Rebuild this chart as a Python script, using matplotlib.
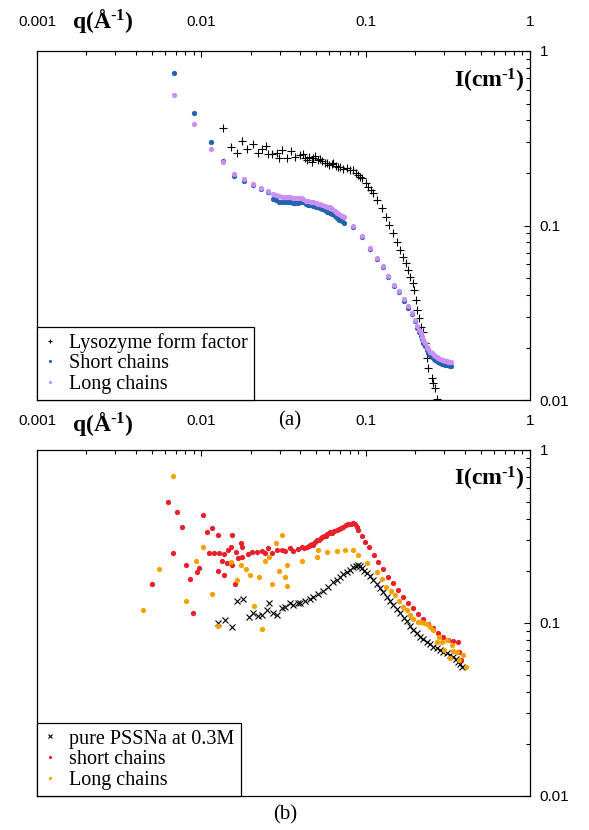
import matplotlib
matplotlib.use('Agg')
import matplotlib.pyplot as plt
from matplotlib.ticker import FixedLocator, LogLocator, NullFormatter

plt.rcParams['font.family'] = ['Liberation Sans', 'DejaVu Sans']
plt.rcParams['mathtext.fontset'] = 'custom'
plt.rcParams['mathtext.rm'] = 'Liberation Serif:bold'
plt.rcParams['mathtext.default'] = 'rm'

# ---- panel (a) ----
lyso_q = [0.0136, 0.0152, 0.0165, 0.0177, 0.0190, 0.0206, 0.0221, 0.0234, 0.0248, 0.0255,
          0.0269, 0.0289, 0.0297, 0.0310, 0.0332, 0.0352, 0.0372, 0.0399, 0.0416, 0.0425,
          0.0440, 0.0455, 0.0472, 0.0480, 0.0492, 0.0510, 0.0528, 0.0545, 0.0566, 0.0580,
          0.0600, 0.0620, 0.0636, 0.0660, 0.0680, 0.0699, 0.0730, 0.0767, 0.0800, 0.0842,
          0.0870, 0.0903, 0.0925, 0.0947, 0.1000, 0.1038, 0.1080, 0.1114, 0.1178, 0.1253,
          0.1331, 0.1394, 0.1475, 0.1546, 0.1619, 0.1696, 0.1762, 0.1820, 0.1863, 0.1935,
          0.1979, 0.2027, 0.2064, 0.2123, 0.2174, 0.2227, 0.2300, 0.2360, 0.2408, 0.2547,
          0.2583, 0.2645, 0.2731]
lyso_I = [0.362, 0.282, 0.260, 0.305, 0.274, 0.293, 0.260, 0.274, 0.285, 0.257,
          0.257, 0.260, 0.244, 0.271, 0.244, 0.267, 0.247, 0.254, 0.257, 0.243,
          0.237, 0.246, 0.231, 0.243, 0.250, 0.236, 0.240, 0.233, 0.228, 0.229,
          0.222, 0.225, 0.227, 0.220, 0.216, 0.217, 0.211, 0.213, 0.207, 0.208,
          0.200, 0.195, 0.190, 0.186, 0.175, 0.167, 0.160, 0.153, 0.140, 0.1255,
          0.1123, 0.1007, 0.0902, 0.0807, 0.0724, 0.0663, 0.0607, 0.0556, 0.0509, 0.0466,
          0.0427, 0.0374, 0.0328, 0.0294, 0.0263, 0.0246, 0.0211, 0.0175, 0.0152, 0.0133,
          0.0125, 0.0117, 0.0102]

chains_q = [0.00683, 0.00903, 0.01146, 0.01355, 0.0159, 0.0183, 0.0206, 0.0230, 0.0254,
            0.0273, 0.0285, 0.0297, 0.0310, 0.0322, 0.0335, 0.0347, 0.0360, 0.0374, 0.0388,
            0.0402, 0.0416, 0.0432, 0.0448, 0.0464, 0.0479, 0.0496, 0.0512, 0.0528, 0.0546,
            0.0565, 0.0585, 0.0605, 0.0625, 0.0647, 0.0669, 0.0692, 0.0715, 0.0742,
            0.0835, 0.0947, 0.1064, 0.1178, 0.1271, 0.1375, 0.1495, 0.1604, 0.1713, 0.1804,
            0.1908, 0.1998, 0.2064,
            0.2120, 0.2165, 0.2210, 0.2245, 0.2300, 0.2355, 0.2410, 0.2470, 0.2526, 0.2590,
            0.2650, 0.2709, 0.2770, 0.2840, 0.2905, 0.2970, 0.3040, 0.3115, 0.3190, 0.3250,
            0.3296]
short_I = [0.748, 0.441, 0.301, 0.234, 0.193, 0.180, 0.171, 0.162, 0.156,
           0.142, 0.140, 0.137, 0.136, 0.137, 0.136, 0.136, 0.135, 0.134, 0.135,
           0.137, 0.136, 0.133, 0.131, 0.131, 0.130, 0.128, 0.127, 0.1255, 0.124,
           0.122, 0.120, 0.118, 0.116, 0.113, 0.110, 0.108, 0.106, 0.103,
           0.0975, 0.0862, 0.0733, 0.0643, 0.0575, 0.0509, 0.0452, 0.0417, 0.0370, 0.0339,
           0.0311, 0.0282, 0.0260,
           0.0244, 0.0233, 0.0223, 0.0213, 0.0203, 0.0194, 0.0187, 0.0181, 0.0177, 0.0173,
           0.0170, 0.0167, 0.0165, 0.0163, 0.0161, 0.0160, 0.0159, 0.0158, 0.0158, 0.0157,
           0.0156]
long_I = [0.560, 0.382, 0.274, 0.232, 0.196, 0.184, 0.173, 0.165, 0.158,
          0.151, 0.149, 0.147, 0.146, 0.146, 0.145, 0.145, 0.144, 0.143, 0.143,
          0.143, 0.141, 0.139, 0.138, 0.137, 0.136, 0.134, 0.133, 0.132, 0.131,
          0.129, 0.128, 0.127, 0.124, 0.121, 0.118, 0.116, 0.114, 0.112,
          0.0990, 0.0875, 0.0745, 0.0652, 0.0583, 0.0517, 0.0458, 0.0424, 0.0377, 0.0345,
          0.0317, 0.0289, 0.0266,
          0.0252, 0.0241, 0.0231, 0.0221, 0.0211, 0.0202, 0.0195, 0.0189, 0.0185, 0.0181,
          0.0178, 0.0176, 0.0174, 0.0172, 0.0170, 0.0169, 0.0168, 0.0167, 0.0166, 0.0165,
          0.0165]

# ---- panel (b) ----
pss_q = [0.01264, 0.01394, 0.01538, 0.0165, 0.01794, 0.01951, 0.02064, 0.02214, 0.02342, 0.02511,
         0.02583, 0.02731, 0.02889, 0.03099, 0.03231, 0.03466, 0.03614, 0.03878,
         0.0399, 0.0428, 0.0459, 0.0480, 0.0513, 0.0550, 0.0590, 0.0636, 0.0670, 0.0699,
         0.0730, 0.0767, 0.0800, 0.0842, 0.0870, 0.0903, 0.0925, 0.0947, 0.0980, 0.1016,
         0.1060, 0.1114, 0.1165, 0.1223, 0.1280, 0.1344, 0.1410, 0.1475, 0.1545, 0.1619,
         0.1700, 0.1779, 0.1865, 0.1951, 0.2045, 0.2143, 0.2245, 0.2355, 0.2465, 0.2582,
         0.2700, 0.2837, 0.2970, 0.3115, 0.3260, 0.3418, 0.3540, 0.3666, 0.3760, 0.3845]
pss_I = [0.100, 0.104, 0.0948, 0.134, 0.1376, 0.1083, 0.1142, 0.1098, 0.1112, 0.1189,
         0.1305, 0.1142, 0.1112, 0.1221, 0.1238, 0.1305, 0.1271, 0.1305,
         0.131, 0.134, 0.137, 0.141, 0.147, 0.153, 0.161, 0.172, 0.178, 0.185,
         0.191, 0.198, 0.203, 0.210, 0.213, 0.216, 0.212, 0.207, 0.200, 0.194,
         0.186, 0.177, 0.168, 0.159, 0.150, 0.142, 0.134, 0.127, 0.120, 0.114,
         0.107, 0.102, 0.096, 0.0911, 0.0870, 0.0833, 0.0805, 0.0779, 0.0752, 0.0729,
         0.0712, 0.0698, 0.0682, 0.0668, 0.0652, 0.0639, 0.0620, 0.0597, 0.0578, 0.0559]

red_q = [0.00501, 0.00627, 0.00673, 0.00711, 0.00763, 0.00807, 0.00854, 0.00890, 0.00942, 0.00968,
         0.01024, 0.01083, 0.01114, 0.01162, 0.01195, 0.01264, 0.01264, 0.01282, 0.01337, 0.01375,
         0.01375, 0.01434, 0.01454, 0.01516, 0.01538, 0.01538, 0.01604, 0.01627, 0.01673, 0.01745,
         0.01769, 0.01769, 0.01924, 0.02035, 0.02183, 0.02342, 0.02442, 0.02547, 0.02693, 0.02889,
         0.03099, 0.03231, 0.03466, 0.03614, 0.03878, 0.04101, 0.0420, 0.04399, 0.0450, 0.04588,
         0.0470, 0.04786, 0.0495, 0.0506, 0.0520, 0.0535, 0.0545, 0.0558, 0.0570, 0.0582,
         0.0595, 0.0607, 0.0620, 0.0640, 0.0667, 0.0690, 0.0710, 0.0732, 0.0760, 0.0785,
         0.0810, 0.0842, 0.0860, 0.0883, 0.0903, 0.0947, 0.0992, 0.1053, 0.1125, 0.1195,
         0.1281, 0.1375, 0.1475, 0.1581, 0.1696, 0.1819, 0.1951, 0.2093, 0.2245, 0.2408,
         0.2582, 0.2770, 0.2971, 0.3186, 0.3418, 0.3666, 0.3718, 0.3792]
red_I = [0.168, 0.501, 0.254, 0.438, 0.359, 0.216, 0.180, 0.114, 0.197, 0.208,
         0.421, 0.336, 0.254, 0.354, 0.254, 0.323, 0.200, 0.254, 0.228, 0.2505,
         0.189, 0.222, 0.264, 0.275, 0.323, 0.216, 0.168, 0.257, 0.238, 0.290,
         0.275, 0.241, 0.2505, 0.257, 0.257, 0.261, 0.254, 0.271, 0.254, 0.264,
         0.264, 0.261, 0.271, 0.261, 0.268, 0.275, 0.272, 0.275, 0.279, 0.282,
         0.285, 0.282, 0.292, 0.302, 0.300, 0.310, 0.313, 0.318, 0.320, 0.327,
         0.330, 0.336, 0.333, 0.340, 0.345, 0.350, 0.352, 0.360, 0.366, 0.3735,
         0.372, 0.377, 0.375, 0.360, 0.345, 0.318, 0.295, 0.274, 0.247, 0.226,
         0.204, 0.185, 0.170, 0.155, 0.142, 0.130, 0.122, 0.113, 0.105, 0.0987,
         0.0932, 0.0872, 0.0827, 0.0797, 0.0787, 0.0779, 0.0683, 0.0611]

orange_q = [0.00442, 0.00553, 0.00673, 0.00807, 0.00928, 0.01024, 0.01162, 0.01264, 0.01516, 0.0165,
            0.01745, 0.01871, 0.01979, 0.02093, 0.02245, 0.02342, 0.02442, 0.02583, 0.02693, 0.02849,
            0.02971, 0.03099, 0.03231, 0.03323, 0.03323, 0.04101, 0.0504, 0.0513, 0.0580, 0.0667,
            0.0749, 0.0835, 0.0903, 0.1016, 0.1168, 0.1250, 0.1331, 0.1420, 0.1510, 0.1600,
            0.1696, 0.1779, 0.1860, 0.1951, 0.2093, 0.2180, 0.2267, 0.2370, 0.2466, 0.2582,
            0.2708, 0.2800, 0.2905, 0.3000, 0.3115, 0.3264, 0.3342, 0.3400, 0.3585, 0.3718,
            0.3933, 0.4067]
orange_I = [0.119, 0.205, 0.707, 0.134, 0.228, 0.275, 0.147, 0.0961, 0.225, 0.177,
            0.216, 0.205, 0.189, 0.125, 0.184, 0.0923, 0.228, 0.241, 0.168, 0.290,
            0.200, 0.323, 0.184, 0.164, 0.216, 0.228, 0.2416, 0.264, 0.258, 0.262,
            0.264, 0.264, 0.247, 0.221, 0.198, 0.180, 0.162, 0.152, 0.145, 0.134,
            0.124, 0.119, 0.111, 0.105, 0.1017, 0.101, 0.1004, 0.098, 0.0952, 0.0911,
            0.0779, 0.083, 0.0779, 0.070, 0.0797, 0.0625, 0.0746, 0.069, 0.0683, 0.0611,
            0.0653, 0.0554]

xticks = [0.001, 0.01, 0.1, 1]
xtick_labels = ['0.001', '0.01', '0.1', '1']
yticks = [0.01, 0.1, 1]
ytick_labels = ['0.01', '0.1', '1']

serif = {'family': 'Liberation Serif', 'size': 14.5}


def style_axes(ax):
    ax.set_xscale('log')
    ax.set_yscale('log')
    ax.set_xlim(0.001, 1)
    ax.set_ylim(0.01, 1)
    ax.xaxis.tick_top()
    ax.yaxis.tick_right()
    ax.xaxis.set_major_locator(FixedLocator(xticks))
    ax.set_xticklabels(xtick_labels)
    ax.yaxis.set_major_locator(FixedLocator(yticks))
    ax.set_yticklabels(ytick_labels)
    ax.xaxis.set_minor_locator(LogLocator(base=10, subs=range(2, 10)))
    ax.yaxis.set_minor_locator(LogLocator(base=10, subs=range(2, 10)))
    ax.xaxis.set_minor_formatter(NullFormatter())
    ax.yaxis.set_minor_formatter(NullFormatter())
    ax.tick_params(which='both', direction='in', top=True, right=True,
                   bottom=False, left=False, labelsize=11, width=0.8)
    ax.tick_params(which='major', length=4.5)
    ax.tick_params(which='minor', length=3)
    ax.tick_params(axis='x', pad=16)
    ax.tick_params(axis='y', pad=7)
    for s in ax.spines.values():
        s.set_linewidth(0.9)
    ax.text(0.99, 0.915, r'I(cm$^{\text{-}1}$)', transform=ax.transAxes, ha='right', va='center',
            fontsize=17, fontweight='bold', family='Liberation Serif')


fig = plt.figure(figsize=(5.89, 8.30), dpi=100)

ax1 = fig.add_axes([0.0628, 0.518, 0.837, 0.4206])
style_axes(ax1)
ax1.plot(lyso_q, lyso_I, '+', color='black', ms=5.5, mew=0.8, label='Lysozyme form factor')
ax1.plot(chains_q, short_I, 'o', color='#2463b0', ms=3.8, mew=0, label='Short chains')
ax1.plot(chains_q, long_I, 'o', color='#c990f2', ms=3.8, mew=0, label='Long chains')
leg1 = ax1.legend(loc='lower left', borderaxespad=0, fancybox=False, edgecolor='black',
                  framealpha=1, prop=serif, handlelength=0.7, handletextpad=0.6,
                  labelspacing=0.08, markerscale=0.6, borderpad=0.3)
leg1.get_frame().set_linewidth(0.9)

ax2 = fig.add_axes([0.0628, 0.041, 0.837, 0.4169])
style_axes(ax2)
ax2.plot(pss_q, pss_I, 'x', color='black', ms=4.5, mew=0.8, label='pure PSSNa at 0.3M')
ax2.plot(red_q, red_I, 'o', color='#e8202a', ms=3.8, mew=0, label='short chains')
ax2.plot(orange_q, orange_I, 'o', color='#f8a000', ms=3.8, mew=0, label='Long chains')
leg2 = ax2.legend(loc='lower left', borderaxespad=0, fancybox=False, edgecolor='black',
                  framealpha=1, prop=serif, handlelength=0.7, handletextpad=0.6,
                  labelspacing=0.08, markerscale=0.6, borderpad=0.3)
leg2.get_frame().set_linewidth(0.9)

qlabel = r'q(Å$^{\text{-}1}$)'
fig.text(0.122, 0.975, qlabel, ha='left', va='center', fontsize=17,
         fontweight='bold', family='Liberation Serif')
fig.text(0.122, 0.489, qlabel, ha='left', va='center', fontsize=17,
         fontweight='bold', family='Liberation Serif')
fig.text(0.492, 0.493, '(a)', ha='center', va='center', fontsize=15, family='Liberation Serif')
fig.text(0.484, 0.018, '(b)', ha='center', va='center', fontsize=15, family='Liberation Serif')

plt.savefig('out.png', dpi=100)
